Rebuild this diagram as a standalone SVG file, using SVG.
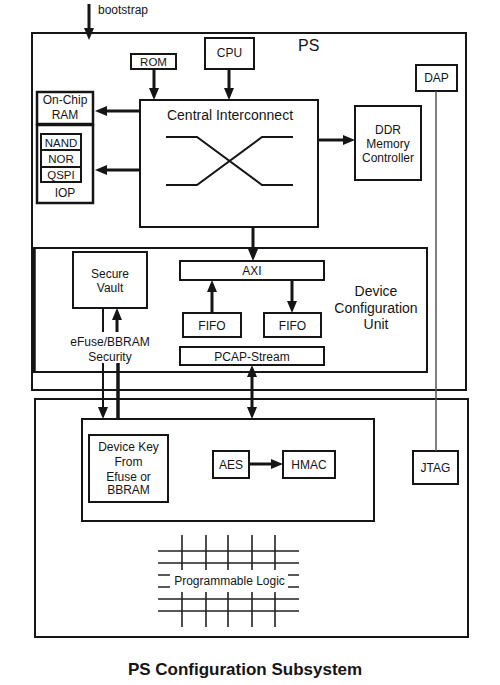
<svg xmlns="http://www.w3.org/2000/svg" width="500" height="685" viewBox="0 0 500 685">
<defs>
<style>
.b{fill:none;stroke:#151515;stroke-width:2}
.bw{fill:#fff;stroke:#151515;stroke-width:2}
.t{font-family:"Liberation Sans",Arial,sans-serif;font-size:12px;fill:#151515;text-anchor:middle}
.t14{font-size:14px}
.s11{font-size:11.5px}
.a{fill:none;stroke:#151515;stroke-width:3}
.th{fill:none;stroke:#151515;stroke-width:2}
.thin{fill:none;stroke:#555;stroke-width:1.5}
.g{fill:none;stroke:#222;stroke-width:1.6}
</style>
<marker id="ah" viewBox="0 0 12 10" refX="6" refY="5" markerWidth="12" markerHeight="10" markerUnits="userSpaceOnUse" orient="auto-start-reverse">
<path d="M0,0 L12,5 L0,10 z" fill="#151515"/>
</marker>
</defs>

<g id="ps">
<rect class="b" x="32" y="33" width="434" height="357"/>
<text class="t" x="298" y="51" style="font-size:16px;text-anchor:start">PS</text>
</g>

<g id="dcu">
<rect class="b" x="34" y="248" width="393" height="124"/>
<line x1="34" y1="248" x2="34" y2="372" stroke="#151515" stroke-width="3.5"/>
<text class="t t14" x="376" y="296">Device</text>
<text class="t t14" x="376" y="313">Configuration</text>
<text class="t t14" x="376" y="329">Unit</text>
</g>

<g id="pl">
<rect class="b" x="35" y="399" width="433" height="238"/>
</g>

<g id="rom">
<rect class="b" x="131" y="54" width="45" height="15"/>
<text class="t s11" x="153.5" y="66">ROM</text>
</g>

<g id="cpu">
<rect class="b" x="205" y="38" width="49" height="31"/>
<text class="t" x="229.5" y="56.5">CPU</text>
</g>

<g id="interconnect">
<rect class="b" x="140" y="100" width="178" height="127"/>
<text class="t t14" x="230" y="120">Central Interconnect</text>
<path class="th" d="M166,137 H197 L262,185 H293 M166,185 H197 L262,137 H293"/>
</g>

<g id="onchip-ram">
<rect x="37" y="92" width="56" height="32" fill="none" stroke="#151515" stroke-width="2.5"/>
<text class="t" x="65" y="104">On-Chip</text>
<text class="t" x="65" y="119">RAM</text>
</g>

<g id="iop">
<rect x="37" y="125" width="56" height="78" fill="none" stroke="#151515" stroke-width="2.5"/>
<text class="t" x="65" y="197">IOP</text>
</g>
<g id="nand">
<rect class="b" x="41" y="134" width="40" height="16"/>
<text class="t s11" x="61" y="146.5">NAND</text>
</g>
<g id="nor">
<rect class="b" x="41" y="150" width="40" height="17"/>
<text class="t s11" x="61" y="163">NOR</text>
</g>
<g id="qspi">
<rect class="b" x="41" y="167" width="40" height="15"/>
<text class="t s11" x="61" y="179">QSPI</text>
</g>

<g id="ddr">
<rect class="b" x="355" y="106" width="66" height="74"/>
<text class="t" x="388" y="134">DDR</text>
<text class="t" x="388" y="148">Memory</text>
<text class="t" x="388" y="162">Controller</text>
</g>

<g id="dap">
<rect class="b" x="416" y="65" width="41" height="26"/>
<text class="t" x="436.5" y="82">DAP</text>
</g>

<g id="secure-vault">
<rect class="b" x="73" y="252" width="74" height="56"/>
<text class="t" x="110" y="278">Secure</text>
<text class="t" x="110" y="292">Vault</text>
</g>

<g id="efuse-label">
<text class="t" x="110" y="346">eFuse/BBRAM</text>
<text class="t" x="110" y="361">Security</text>
</g>

<g id="axi">
<rect class="b" x="180" y="261" width="144" height="19"/>
<text class="t" x="252" y="275">AXI</text>
</g>

<g id="fifo-left">
<rect class="b" x="183" y="313" width="58" height="24"/>
<text class="t" x="212" y="329.5">FIFO</text>
</g>

<g id="fifo-right">
<rect class="b" x="264" y="313" width="57" height="24"/>
<text class="t" x="292.5" y="329.5">FIFO</text>
</g>

<g id="pcap">
<rect class="b" x="180" y="347" width="144" height="18"/>
<text class="t" x="252" y="360.5">PCAP-Stream</text>
</g>

<g id="crypto">
<rect class="b" x="82" y="419" width="292" height="102"/>
</g>

<g id="device-key">
<rect class="b" x="89" y="435" width="79" height="67"/>
<text class="t" x="128.5" y="451">Device Key</text>
<text class="t" x="128.5" y="466">From</text>
<text class="t" x="128.5" y="481">Efuse or</text>
<text class="t" x="128.5" y="494">BBRAM</text>
</g>

<g id="aes">
<rect class="b" x="213" y="451" width="36" height="27"/>
<text class="t" x="231" y="469">AES</text>
</g>

<g id="hmac">
<rect class="b" x="283" y="451" width="52" height="27"/>
<text class="t" x="309" y="469">HMAC</text>
</g>

<g id="jtag">
<rect class="b" x="413" y="451" width="45" height="33"/>
<text class="t" x="435.5" y="472">JTAG</text>
</g>

<g id="programmable-logic">
<path class="g" d="M158,551 H299 M158,563 H299 M158,599 H299 M158,611 H299 M182,535 V570 M206,535 V570 M228,535 V570 M252,535 V570 M275,535 V570 M182,592 V627 M206,592 V627 M228,592 V627 M252,592 V627 M275,592 V627 M158,575 H170 M158,587 H170 M288,575 H299 M288,587 H299"/>
<rect x="172" y="572" width="114" height="18" fill="#fff"/>
<text class="t" x="229.5" y="585">Programmable Logic</text>
</g>

<g id="connectors">
<line class="a" x1="89" y1="4" x2="89" y2="34" marker-end="url(#ah)"/>
<text class="t" x="98" y="13.5" style="text-anchor:start">bootstrap</text>
<line class="a" x1="154" y1="69" x2="154" y2="94" marker-end="url(#ah)"/>
<line class="a" x1="229" y1="69" x2="229" y2="94" marker-end="url(#ah)"/>
<line class="a" x1="140" y1="111" x2="101" y2="111" marker-end="url(#ah)"/>
<line class="a" x1="140" y1="170" x2="101" y2="170" marker-end="url(#ah)"/>
<line class="a" x1="318" y1="140" x2="349" y2="140" marker-end="url(#ah)"/>
<line class="a" x1="253" y1="227" x2="253" y2="255" marker-end="url(#ah)"/>
<line class="a" x1="212" y1="313" x2="212" y2="286" marker-end="url(#ah)"/>
<line class="a" x1="292" y1="280" x2="292" y2="307" marker-end="url(#ah)"/>
<line class="th" x1="103" y1="308" x2="103" y2="332"/>
<line class="th" x1="103" y1="363" x2="103" y2="413" marker-end="url(#ah)"/>
<line class="a" x1="117" y1="332" x2="117" y2="314" marker-end="url(#ah)"/>
<line x1="118" y1="363" x2="118" y2="419" stroke="#151515" stroke-width="3.5"/>
<line class="a" x1="252" y1="371" x2="252" y2="413" marker-start="url(#ah)" marker-end="url(#ah)"/>
<line class="a" x1="249" y1="464" x2="277" y2="464" marker-end="url(#ah)"/>
<line class="thin" x1="436" y1="91" x2="436" y2="451"/>
</g>

<text class="t" x="245" y="675" style="font-size:17px;font-weight:bold">PS Configuration Subsystem</text>
</svg>
